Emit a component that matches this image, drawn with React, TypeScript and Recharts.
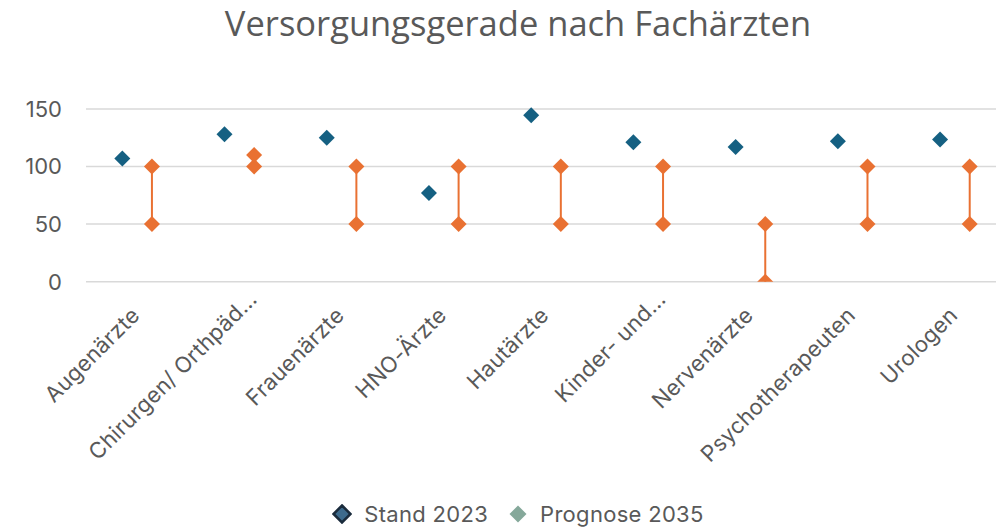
import {
  ScatterChart,
  Scatter,
  XAxis,
  YAxis,
  CartesianGrid,
  ErrorBar,
  Legend,
} from 'recharts';

const categories = [
  'Augenärzte',
  'Chirurgen/ Orthpäd…',
  'Frauenärzte',
  'HNO-Ärzte',
  'Hautärzte',
  'Kinder- und…',
  'Nervenärzte',
  'Psychotherapeuten',
  'Urologen',
];
const stand2023 = [107, 128, 125, 77, 144.5, 121, 117, 122, 123.5];
const prognoseLow = [50, 100, 50, 50, 50, 50, 0, 50, 50];
const prognoseHigh = [100, 110, 100, 100, 100, 100, 50, 100, 100];
const yTicks = [0, 50, 100, 150];

const BLUE = '#156082';
const ORANGE = '#E97132';
const GREY = '#595959';
const FONT = 'Inter, "Noto Sans", sans-serif';
const FS = 22;

// small offset inside each category so the two series sit side by side
const SHIFT = 0.145;

const standData = categories.map((c, i) => ({ x: i - SHIFT, y: stand2023[i], name: c }));
const lowData = categories.map((c, i) => ({
  x: i + SHIFT,
  y: prognoseLow[i],
  range: [0, prognoseHigh[i] - prognoseLow[i]],
  name: c,
}));
const highData = categories.map((c, i) => ({ x: i + SHIFT, y: prognoseHigh[i], name: c }));

function Diamond(props: any) {
  const { cx, cy, fill } = props;
  const r = 8;
  return (
    <polygon
      points={`${cx},${cy - r} ${cx + r},${cy} ${cx},${cy + r} ${cx - r},${cy}`}
      fill={fill}
    />
  );
}

function CategoryTick(props: any) {
  const { x, y, payload } = props;
  const label = categories[payload.value] ?? '';
  const cut = label.endsWith('…');
  const ax = x + (cut ? 19 : 4);
  const ay = y + (cut ? 19 : 35);
  return (
    <text
      transform={`translate(${ax},${ay}) rotate(-45)`}
      textAnchor="end"
      fill={GREY}
      fontSize={FS}
      fontFamily={FONT}
      letterSpacing={0.3}
    >
      {label}
    </text>
  );
}

function LegendMark({ fill, stroke }: { fill: string; stroke?: string }) {
  return (
    <svg width={20} height={20} style={{ display: 'block' }}>
      <polygon
        points="10,1.5 18.5,10 10,18.5 1.5,10"
        fill={fill}
        stroke={stroke ?? 'none'}
        strokeWidth={stroke ? 2.5 : 0}
      />
    </svg>
  );
}

function ChartLegend() {
  return (
    <div
      style={{
        display: 'flex',
        justifyContent: 'center',
        alignItems: 'center',
        gap: 20,
        fontFamily: FONT,
        fontSize: FS,
        letterSpacing: 0.3,
        color: GREY,
        height: 30,
      }}
    >
      <div style={{ display: 'flex', alignItems: 'center', gap: 12 }}>
        <LegendMark fill="#3D6A8C" stroke="#1A2B3C" />
        <span>Stand 2023</span>
      </div>
      <div style={{ display: 'flex', alignItems: 'center', gap: 12 }}>
        <LegendMark fill="#85A89A" />
        <span>Prognose 2035</span>
      </div>
    </div>
  );
}

export default function App() {
  return (
    <div
      style={{
        position: 'absolute',
        left: 0,
        top: 0,
        width: 996,
        height: 529,
        overflow: 'hidden',
        background: '#fff',
      }}
    >
      <div
        style={{
          position: 'absolute',
          left: 0,
          top: 0,
          width: 1036,
          textAlign: 'center',
          fontFamily: '"Open Sans", sans-serif',
          fontSize: 34.5,
          lineHeight: '46px',
          color: GREY,
        }}
      >
        Versorgungsgerade nach Fachärzten
      </div>
      <ScatterChart
        width={1036}
        height={529}
        margin={{ top: 103.2, right: 30, left: 0, bottom: 0 }}
      >
        <CartesianGrid
          vertical={false}
          horizontalValues={yTicks}
          stroke="#D9D9D9"
          strokeWidth={1.5}
        />
        <XAxis
          type="number"
          dataKey="x"
          domain={[-0.5, 8.5]}
          ticks={categories.map((_, i) => i)}
          interval={0}
          axisLine={false}
          tickLine={false}
          tickSize={0}
          tickMargin={0}
          height={217.3}
          tick={<CategoryTick />}
        />
        <YAxis
          type="number"
          dataKey="y"
          domain={[0, 155]}
          allowDataOverflow
          ticks={yTicks}
          width={86}
          axisLine={false}
          tickLine={false}
          tickSize={0}
          tickMargin={24}
          tick={{ fill: GREY, fontSize: FS, fontFamily: FONT }}
        />
        <Legend verticalAlign="bottom" wrapperStyle={{ left: 0, width: 1036, height: 30 }} content={<ChartLegend />} />
        <Scatter
          name="Prognose min"
          data={lowData}
          fill={ORANGE}
          shape={<Diamond />}
          isAnimationActive={false}
          legendType="none"
        >
          <ErrorBar dataKey="range" direction="y" width={0} stroke={ORANGE} strokeWidth={2} />
        </Scatter>
        <Scatter
          name="Prognose max"
          data={highData}
          fill={ORANGE}
          shape={<Diamond />}
          isAnimationActive={false}
          legendType="none"
        />
        <Scatter
          name="Stand 2023"
          data={standData}
          fill={BLUE}
          shape={<Diamond />}
          isAnimationActive={false}
        />
      </ScatterChart>
    </div>
  );
}
